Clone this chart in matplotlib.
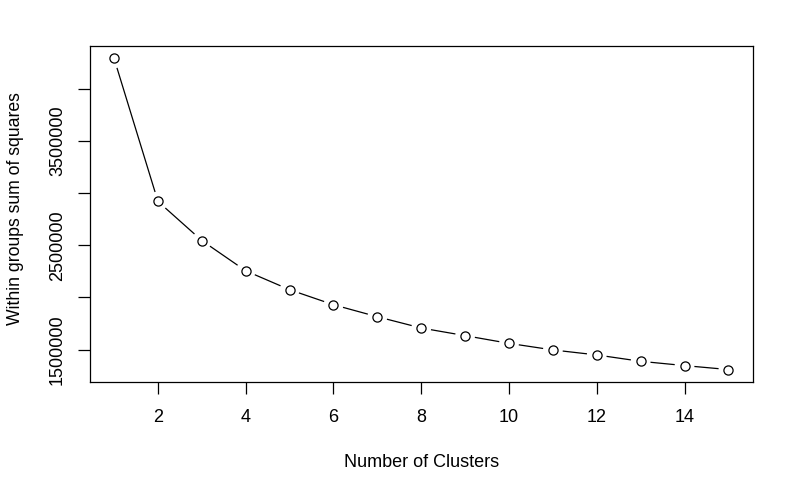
import numpy as np
import matplotlib
matplotlib.use("Agg")
import matplotlib.pyplot as plt

plt.rcParams['font.family'] = ['Liberation Sans', 'DejaVu Sans']

# data
clusters = list(range(1, 16))
wss = [4290000, 2920000, 2545000, 2255000, 2074000, 1930000, 1815000,
       1707000, 1634000, 1560000, 1497000, 1449000, 1388000, 1347000, 1309000]
ytick_vals = [1500000, 2000000, 2500000, 3000000, 3500000, 4000000]
ytick_labels = ['1500000', '', '2500000', '', '3500000', '']
xtick_vals = [2, 4, 6, 8, 10, 12, 14]

fig = plt.figure(figsize=(8, 4.94), dpi=100)
ax = fig.add_axes([89.5 / 800, (494 - 382) / 494, (753 - 89.5) / 800, (382 - 46) / 494])

# R-style 4% padding
xr = max(clusters) - min(clusters)
yr = max(wss) - min(wss)
ax.set_xlim(min(clusters) - 0.04 * xr, max(clusters) + 0.04 * xr)
ax.set_ylim(min(wss) - 0.04 * yr, max(wss) + 0.04 * yr)

# type="b": segments with gaps around the points
fig.canvas.draw()
pts = ax.transData.transform(np.column_stack([clusters, wss]))
gap = 10.5
inv = ax.transData.inverted()
for i in range(len(pts) - 1):
    p0, p1 = pts[i], pts[i + 1]
    d = p1 - p0
    L = np.hypot(*d)
    if L <= 2 * gap:
        continue
    u = d / L
    a = inv.transform(p0 + u * gap)
    b = inv.transform(p1 - u * gap)
    ax.plot([a[0], b[0]], [a[1], b[1]], color='black', lw=0.9)

ax.plot(clusters, wss, linestyle='none', marker='o', markersize=6.6,
        markerfacecolor='none', markeredgecolor='black', markeredgewidth=0.9)

ax.set_xticks(xtick_vals)
ax.set_yticks(ytick_vals)
ax.set_yticklabels(ytick_labels, rotation=90, va='center')
ax.tick_params(axis='both', length=8.5, width=0.9, labelsize=13)
ax.tick_params(axis='x', pad=11)
ax.tick_params(axis='y', pad=8.5)
for s in ax.spines.values():
    s.set_linewidth(0.9)

ax.set_xlabel('Number of Clusters', fontsize=13, labelpad=20)
ax.set_ylabel('Within groups sum of squares', fontsize=12.7, labelpad=18)
ax.yaxis.label.set_y(0.516)

fig.savefig('out.png', dpi=100)
